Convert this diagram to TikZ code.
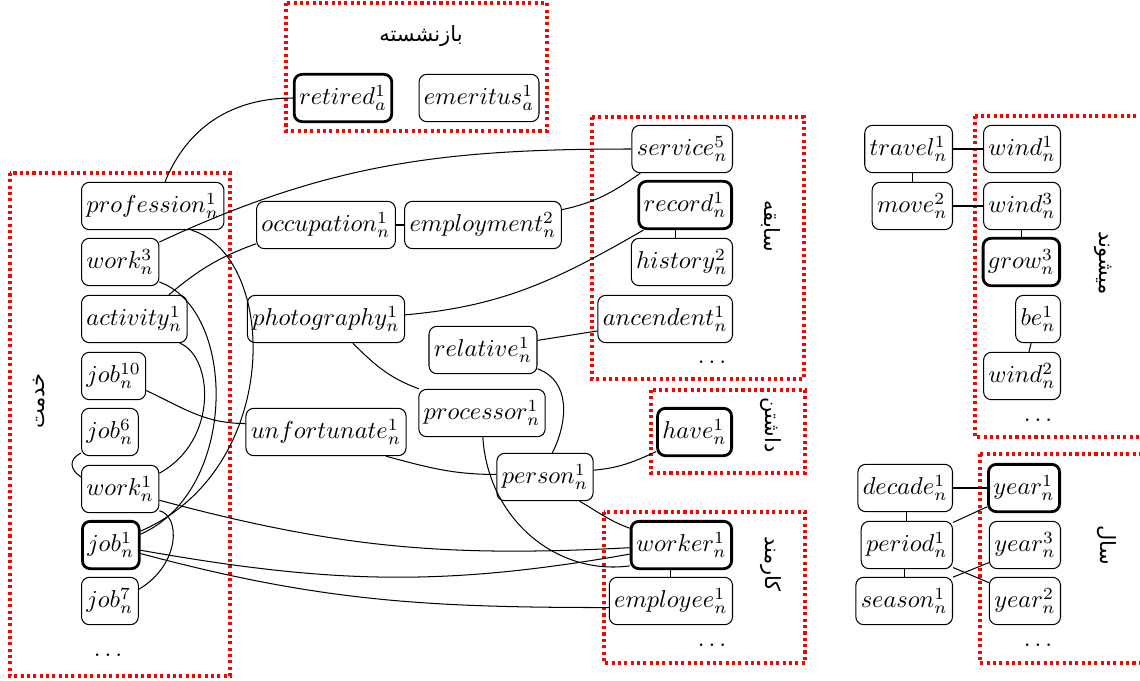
\documentclass[tikz,border=0pt]{standalone}
\usepackage{fontspec}
\newfontfamily\fa[Script=Arabic]{DejaVu Sans}
\TeXXeTstate=1
\begin{document}
\begin{tikzpicture}[x=0.41pt,y=0.41pt,
  w/.style={draw, rounded corners=3.2pt, inner xsep=2pt, inner ysep=0pt, minimum height=19.4pt, line width=0.42pt},
  hb/.style={w, line width=1.15pt},
  grp/.style={draw=red, line width=1.25pt, dash pattern=on 1.25pt off 1.35pt},
  lab/.style={font=\fontsize{8.6}{10}\fa, inner sep=0pt},
  conn/.style={line width=0.42pt},
  dd/.style={inner sep=0pt}
]
\useasboundingbox (0,0) rectangle (1140,-681);

% group boxes
\draw[grp] (286,-3) rectangle (547,-131);
\draw[grp] (10,-173) rectangle (230,-676);
\draw[grp] (592,-117) rectangle (804,-379);
\draw[grp] (651,-390) rectangle (805,-473);
\draw[grp] (604,-512) rectangle (805,-663);
\draw[grp] (975,-116) rectangle (1150,-437);
\draw[grp] (980,-454) rectangle (1150,-663);

% group labels
\node[lab] (Lret) at (421,-36) {\beginR بازنشسته\endR};
\node[lab, rotate=90] (Lkh) at (39,-401) {\beginR خدمت\endR};
\node[lab, rotate=-90] (Lsab) at (771,-226) {\beginR سابقه\endR};
\node[lab, rotate=-90] (Ldas) at (771,-425) {\beginR داشتن\endR};
\node[lab, rotate=-90] (Lkar) at (771,-564) {\beginR کارمند\endR};
\node[lab, rotate=-90] (Lmi) at (1103,-263) {\beginR میشوند\endR};
\node[lab, rotate=-90] (Lsal) at (1107,-545) {\beginR سال\endR};

% top group
\node[hb] (retired) at (343,-98) {$retired^1_a$};
\node[w] (emeritus) at (479,-98) {$emeritus^1_a$};

% left column
\node[w, anchor=west] (profession) at (81,-206) {$profession^1_n$};
\node[w, anchor=west] (work3) at (81,-262) {$work^3_n$};
\node[w, anchor=west] (activity) at (81,-319) {$activity^1_n$};
\node[w, anchor=west] (job10) at (81,-376) {$job^{10}_n$};
\node[w, anchor=west] (job6) at (81,-432) {$job^6_n$};
\node[w, anchor=west] (work1) at (81,-489) {$work^1_n$};
\node[hb, anchor=west] (job1) at (81,-545) {$job^1_n$};
\node[w, anchor=west] (job7) at (81,-601) {$job^7_n$};
\node[dd] (d1) at (108,-655) {$\ldots$};

% middle
\node[w] (occupation) at (326,-225) {$occupation^1_n$};
\node[w] (employment) at (483,-225) {$employment^2_n$};
\node[w] (photography) at (326,-319) {$photography^1_n$};
\node[w] (relative) at (483,-350) {$relative^1_n$};
\node[w] (processor) at (482,-413) {$processor^1_n$};
\node[w] (unfortunate) at (326,-432) {$unfortunate^1_n$};
\node[w] (person) at (545,-477) {$person^1_n$};

% sabeghe group
\node[w, anchor=east] (service) at (733,-149) {$service^5_n$};
\node[hb, anchor=east] (record) at (733,-205) {$record^1_n$};
\node[w, anchor=east] (history) at (733,-262) {$history^2_n$};
\node[w, anchor=east] (ancendent) at (733,-319) {$ancendent^1_n$};
\node[dd] (d2) at (712,-362) {$\ldots$};

% have, worker
\node[hb, anchor=east] (have) at (733,-432) {$have^1_n$};
\node[hb, anchor=east] (worker) at (733,-545) {$worker^1_n$};
\node[w, anchor=east] (employee) at (733,-601) {$employee^1_n$};
\node[dd] (d3) at (712,-645) {$\ldots$};

% right side
\node[w, anchor=east] (travel) at (953,-149) {$travel^1_n$};
\node[w, anchor=east] (move) at (953,-206) {$move^2_n$};
\node[w, anchor=east] (wind1) at (1061,-149) {$wind^1_n$};
\node[w, anchor=east] (wind3) at (1061,-206) {$wind^3_n$};
\node[hb, anchor=east] (grow) at (1061,-262) {$grow^3_n$};
\node[w, anchor=east] (be) at (1061,-319) {$be^1_n$};
\node[w, anchor=east] (wind2) at (1061,-376) {$wind^2_n$};
\node[dd] (d4) at (1038,-420) {$\ldots$};

\node[w, anchor=east] (decade) at (953,-488) {$decade^1_n$};
\node[w, anchor=east] (period) at (953,-545) {$period^1_n$};
\node[w, anchor=east] (season) at (953,-601) {$season^1_n$};
\node[hb, anchor=east] (year1) at (1061,-488) {$year^1_n$};
\node[w, anchor=east] (year3) at (1061,-545) {$year^3_n$};
\node[w, anchor=east] (year2) at (1061,-601) {$year^2_n$};
\node[dd] (d5) at (1038,-645) {$\ldots$};

% connectors
\draw[conn] (profession.63) to[out=68,in=180] (retired.west);
\draw[conn] (work3.27) to[out=25,in=180] (service.west);
\draw[conn] (activity.35) to[out=40,in=200] (occupation.195);
\draw[conn] (profession.-32) .. controls +(87,-26) and +(143,62) .. (job1.25);
\draw[conn] (work3.-27) .. controls +(78,-28) and +(98,43) .. (job1.20);
\draw[conn] (activity.-28) .. controls +(33,-13) and +(60,33) .. (work1.22);
\draw[conn] (job6.216) .. controls +(-12,-6) and +(-12,8) .. (work1.163);
\draw[conn] (work1.-29) .. controls +(21,-5) and +(42,25) .. (job7.22);
\draw[conn] (job10.-24) to[out=-25,in=180] (unfortunate.174);
\draw[conn] (work1.-16) to[out=-15,in=183] (worker.183);
\draw[conn] (job1.-10) to[out=-10,in=190] (worker.190);
\draw[conn] (job1.-16) to[out=-15,in=180] (employee.186);
\draw[conn] (photography.3) to[out=5,in=210] (record.211);
\draw[conn] (employment.11) to[out=12,in=215] (service.210);
\draw[conn] (occupation.east) -- (employment.west);
\draw[conn] (relative.10) -- (ancendent.190);
\draw[conn] (photography.-42) to[out=-45,in=160] (processor.159);
\draw[conn] (relative.-19) .. controls +(33,-12) and +(16,32) .. (person.73);
\draw[conn] (processor.-88) .. controls +(5,-82) and +(-73,-10) .. (worker.202);
\draw[conn] (unfortunate.-22) to[out=-15,in=180] (person.177);
\draw[conn] (person.-35) to[out=-30,in=160] (worker.162);
\draw[conn] (person.8) to[out=5,in=205] (have.207);
\draw[conn] (record.248) -- (record.248 |- history.north);
\draw[conn] (employee.north) -- (employee.north |- worker.south);

\draw[conn] (travel.east) -- (wind1.west);
\draw[conn] (move.north) -- (move.north |- travel.south);
\draw[conn] (move.east) -- (wind3.west);
\draw[conn] (grow.north) -- (grow.north |- wind3.south);
\draw[conn] (be.254) -- (wind2.74);

\draw[conn] (decade.east) -- (year1.west);
\draw[conn] (period.north) -- (period.north |- decade.south);
\draw[conn] (season.north) -- (season.north |- period.south);
\draw[conn] (period.26) -- (year1.207);
\draw[conn] (period.-26) -- (year2.153);
\draw[conn] (season.26) -- (year3.206);
\end{tikzpicture}
\end{document}
